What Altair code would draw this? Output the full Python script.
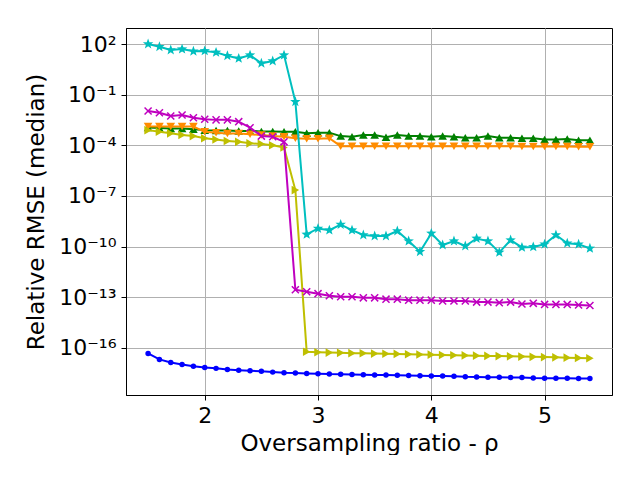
import math
import altair as alt
import pandas as pd

# ---------------- data ----------------
rho = [1.5, 1.6, 1.7, 1.8, 1.9, 2.0, 2.1, 2.2, 2.3, 2.4,
       2.5, 2.6, 2.7, 2.8, 2.9, 3.0, 3.1, 3.2, 3.3, 3.4,
       3.5, 3.6, 3.7, 3.8, 3.9, 4.0, 4.1, 4.2, 4.3, 4.4,
       4.5, 4.6, 4.7, 4.8, 4.9, 5.0, 5.1, 5.2, 5.3, 5.4]

blue = [4.6e-17, 2.04e-17, 1.35e-17, 1.02e-17, 8.1e-18, 6.8e-18, 6.0e-18, 5.2e-18, 4.7e-18, 4.3e-18,
        4.0e-18, 3.6e-18, 3.3e-18, 3.2e-18, 3.0e-18, 2.9e-18, 2.75e-18, 2.7e-18, 2.6e-18, 2.5e-18,
        2.45e-18, 2.4e-18, 2.35e-18, 2.25e-18, 2.2e-18, 2.15e-18, 2.1e-18, 2.05e-18, 1.9e-18, 1.85e-18,
        1.8e-18, 1.78e-18, 1.74e-18, 1.7e-18, 1.6e-18, 1.58e-18, 1.55e-18, 1.55e-18, 1.52e-18, 1.5e-18]

cyan = [100, 69, 44, 50, 37, 39, 32, 20, 14, 22,
        7.2, 9.8, 22, 0.038, 5.2e-10, 1.17e-9, 9.3e-10, 2.0e-9, 9.3e-10, 4.8e-10,
        4.2e-10, 4.2e-10, 8.3e-10, 2.1e-10, 4.9e-11, 6.0e-10, 1.23e-10, 2.1e-10, 1.07e-10, 3.0e-10,
        2.1e-10, 4.5e-11, 2.4e-10, 8.9e-11, 9.5e-11, 1.35e-10, 4.8e-10, 1.55e-10, 1.35e-10, 7.8e-11]

magenta = [1.07e-2, 8.5e-3, 5.4e-3, 6.2e-3, 4.3e-3, 3.5e-3, 3.2e-3, 3.2e-3, 2.5e-3, 1.1e-3,
           3.5e-4, 3.2e-4, 1.6e-4, 2.75e-13, 2.1e-13, 1.6e-13, 1.2e-13, 1.05e-13, 1.05e-13, 9.1e-14,
           9.1e-14, 7.6e-14, 7.6e-14, 6.6e-14, 6.6e-14, 6.6e-14, 5.9e-14, 5.9e-14, 5.9e-14, 5.1e-14,
           5.1e-14, 4.7e-14, 5.1e-14, 3.9e-14, 4.3e-14, 3.7e-14, 3.7e-14, 3.7e-14, 3.4e-14, 3.2e-14]

green = [1.12e-3, 1.07e-3, 1.0e-3, 1.0e-3, 8.9e-4, 7.9e-4, 7.6e-4, 7.6e-4, 7.1e-4, 7.1e-4,
         6.6e-4, 6.6e-4, 6.3e-4, 6.3e-4, 5.1e-4, 5.5e-4, 5.5e-4, 3.5e-4, 3.2e-4, 4.1e-4,
         4.1e-4, 3.0e-4, 4.1e-4, 3.5e-4, 3.5e-4, 3.2e-4, 3.5e-4, 3.2e-4, 2.8e-4, 2.8e-4,
         3.5e-4, 2.8e-4, 2.8e-4, 2.6e-4, 2.6e-4, 2.2e-4, 2.2e-4, 2.35e-4, 2.0e-4, 2.0e-4]

orange = [1.3e-3, 1.3e-3, 1.3e-3, 1.3e-3, 1.3e-3, 6.3e-4, 5.6e-4, 5.0e-4, 5.0e-4, 4.5e-4,
          4.0e-4, 3.5e-4, 3.2e-4, 2.6e-4, 2.4e-4, 2.4e-4, 2.6e-4, 8.9e-5, 8.9e-5, 8.9e-5,
          8.9e-5, 8.9e-5, 8.9e-5, 8.9e-5, 8.9e-5, 8.9e-5, 8.9e-5, 8.9e-5, 8.8e-5, 8.8e-5,
          8.8e-5, 8.7e-5, 8.7e-5, 8.6e-5, 8.6e-5, 8.5e-5, 8.5e-5, 8.4e-5, 8.3e-5, 8.3e-5]

yellow = [7.9e-4, 6.3e-4, 5.1e-4, 4.1e-4, 3.5e-4, 2.6e-4, 2.2e-4, 1.8e-4, 1.6e-4, 1.3e-4,
          1.2e-4, 1.0e-4, 7.4e-5, 2.2e-7, 5.8e-17, 5.4e-17, 5.2e-17, 5.0e-17, 4.8e-17, 4.7e-17,
          4.5e-17, 4.4e-17, 4.3e-17, 4.1e-17, 4.0e-17, 3.9e-17, 3.7e-17, 3.6e-17, 3.5e-17, 3.4e-17,
          3.3e-17, 3.2e-17, 3.1e-17, 3.0e-17, 2.9e-17, 2.8e-17, 2.7e-17, 2.6e-17, 2.5e-17, 2.4e-17]

x_ticks = [2, 3, 4, 5]
y_ticks = [1e2, 1e-1, 1e-4, 1e-7, 1e-10, 1e-13, 1e-16]
y_tick_exps = [2, -1, -4, -7, -10, -13, -16]
y_tick_labels = ["10²", "10⁻¹", "10⁻⁴", "10⁻⁷", "10⁻¹⁰", "10⁻¹³", "10⁻¹⁶"]

# ---------------- styling ----------------
FONT = "DejaVu Sans"
TICK_FS = 22
TITLE_FS = 23

label_expr = ""
for e, lab in zip(y_tick_exps, y_tick_labels):
    label_expr += f"round(log(datum.value)/LN10) == {e} ? '{lab}' : "
label_expr += "''"

# star marker path within [-1, 1]
star_pts = []
for k in range(10):
    r = 1.0 if k % 2 == 0 else 0.42
    a = -math.pi / 2 + k * math.pi / 5
    star_pts.append(f"{r*math.cos(a):.3f},{r*math.sin(a):.3f}")
STAR = "M" + "L".join(star_pts) + "Z"
XMARK = "M-1,-1L1,1M-1,1L1,-1"

X = alt.X("x:Q",
          scale=alt.Scale(domain=[1.305, 5.595], nice=False, zero=False),
          axis=alt.Axis(values=x_ticks, title="Oversampling ratio - ρ", format="d"))
Y = alt.Y("y:Q",
          scale=alt.Scale(type="log", domain=[10 ** -18.8, 10 ** 2.95], nice=False),
          axis=alt.Axis(values=y_ticks, labelExpr=label_expr, title="Relative RMSE (median)"))


def series(vals, color, shape, size, filled=True, sw=1.0):
    df = pd.DataFrame({"x": rho, "y": vals})
    base = alt.Chart(df)
    line = base.mark_line(color=color, strokeWidth=2, clip=True).encode(x=X, y=Y)
    pts = base.mark_point(shape=shape, size=size, filled=filled, color=color,
                          opacity=1, strokeWidth=sw, clip=True).encode(x=X, y=Y)
    return [line, pts]


layers = []
layers += series(blue, "#0000ff", "circle", 30)
layers += series(green, "#008000", "triangle-up", 75)
layers += series(orange, "#ff8c00", "triangle-down", 75)
layers += series(yellow, "#bfbf00", "triangle-right", 75)
layers += series(magenta, "#bf00bf", XMARK, 50, filled=False, sw=1.5)
layers += series(cyan, "#00bfbf", STAR, 120)

chart = alt.layer(*layers).properties(
    width=486, height=367,
    padding={"left": 118, "top": 20, "right": 20, "bottom": 60},
    autosize=alt.AutoSizeParams(type="none"),
).configure_view(
    stroke="black", strokeWidth=1
).configure_axis(
    grid=True, gridColor="#b0b0b0", gridWidth=1,
    domainColor="black", domainWidth=1,
    tickColor="black", tickSize=5, tickWidth=1,
    labelFont=FONT, labelFontSize=TICK_FS, labelColor="black", labelPadding=5,
    titleFont=FONT, titleFontSize=TITLE_FS, titleColor="black", titleFontWeight="normal",
).configure_axisX(
    titlePadding=6, labelFlush=False
).configure_axisY(
    titlePadding=10, labelFlush=False
)

chart.save("out.html", embed_options={"renderer": "svg", "actions": False})
